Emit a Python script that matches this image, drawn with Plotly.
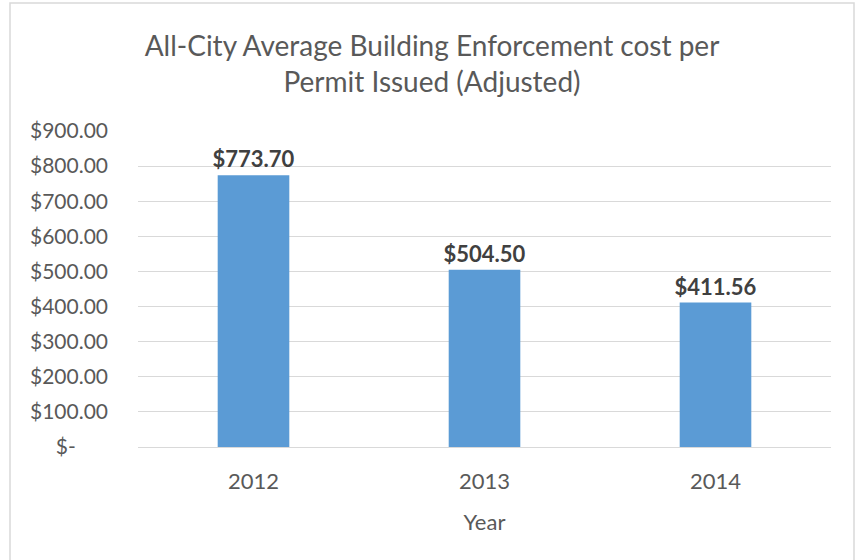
import plotly.graph_objects as go

years = ["2012", "2013", "2014"]
costs = [773.70, 504.50, 411.56]
tick_vals = [0, 100, 200, 300, 400, 500, 600, 700, 800, 900]
tick_text = ["$-      ", "$100.00", "$200.00", "$300.00", "$400.00", "$500.00",
             "$600.00", "$700.00", "$800.00", "$900.00"]

font_family = "Lato, 'Open Sans', sans-serif"

fig = go.Figure()
fig.add_trace(go.Bar(
    x=years, y=costs,
    marker=dict(color="#5B9BD5", line=dict(width=0)),
    texttemplate="<b>$%{y:.2f}</b>",
    textposition="outside",
    constraintext="none",
    textfont=dict(family=font_family, size=22, color="#404040"),
    cliponaxis=False,
    hoverinfo="skip",
))

fig.update_layout(
    width=858, height=560,
    margin=dict(l=138, r=27, t=131, b=113),
    paper_bgcolor="white", plot_bgcolor="white",
    bargap=0.69,
    showlegend=False,
    title=dict(
        text="All-City Average Building Enforcement cost per<br>Permit Issued (Adjusted)",
        x=432 / 858, xref="container", xanchor="center",
        yref="container", y=1 - 56 / 560, yanchor="middle",
        font=dict(family=font_family, size=28, color="#595959"),
    ),
    font=dict(family=font_family, color="#595959"),
    xaxis=dict(
        type="category",
        showgrid=False, showline=True, linecolor="#d9d9d9", linewidth=1,
        ticks="outside", ticklen=15, tickcolor="rgba(0,0,0,0)",
        tickfont=dict(size=22, color="#595959"),
        title=dict(text="Year", font=dict(size=22, color="#595959"), standoff=21),
    ),
    yaxis=dict(
        range=[0, 900], tickvals=tick_vals, ticktext=tick_text,
        showgrid=True, gridcolor="#d9d9d9", gridwidth=1,
        zeroline=False, showline=False, ticks="",
        tickfont=dict(size=21, color="#595959"),
        ticklabelstandoff=29,
    ),
    shapes=[dict(
        type="rect", xref="paper", yref="paper",
        x0=-0.1847, x1=1.0332, y0=-0.40, y1=1.405,
        line=dict(color="#d9d9d9", width=1.5), fillcolor="rgba(0,0,0,0)",
        layer="below",
    )],
)

fig.write_html("out.html", config={"displayModeBar": False},
               post_script="document.body.style.margin='0';")
